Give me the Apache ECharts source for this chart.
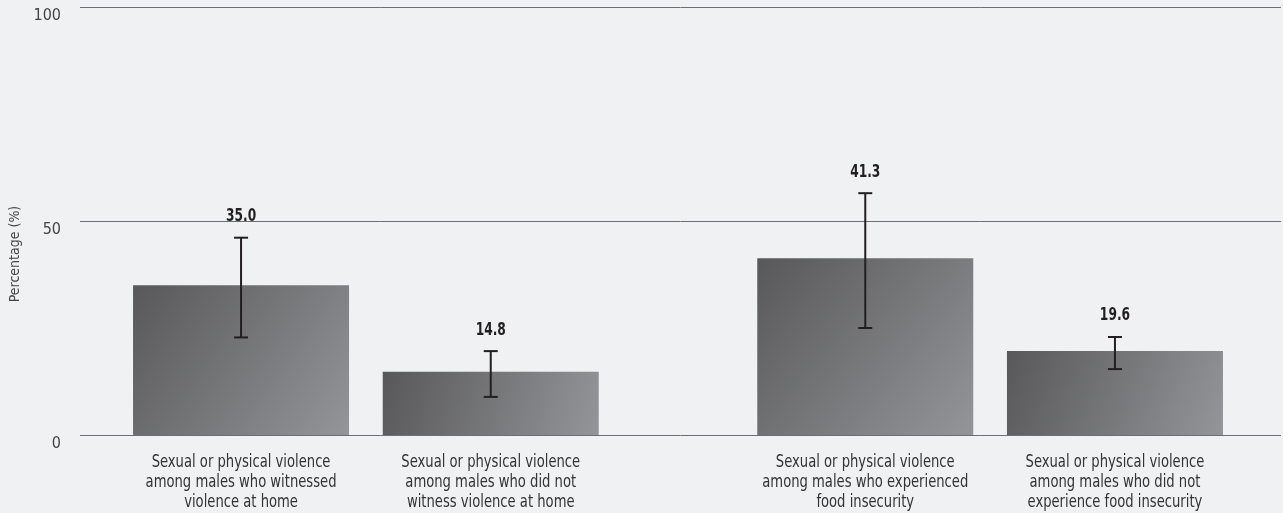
<!DOCTYPE html>
<html>
<head>
<meta charset="utf-8">
<style>
  html, body { margin: 0; padding: 0; background: #f0f1f3; }
  #chart { width: 1283px; height: 513px; }
</style>
<script src="https://cdn.jsdelivr.net/npm/echarts@6/dist/echarts.min.js"></script>
</head>
<body>
<div id="chart"></div>
<script>
// Category labels and their positions along the x axis (pairs separated by a gap)
const categories = [
  'Sexual or physical violence\namong males who witnessed\nviolence at home',
  'Sexual or physical violence\namong males who did not\nwitness violence at home',
  'Sexual or physical violence\namong males who experienced\nfood insecurity',
  'Sexual or physical violence\namong males who did not\nexperience food insecurity'
];
const positions = [0, 1, 2.5, 3.5];

// Prevalence (%) with 95% confidence limits
const values = [35.0, 14.8, 41.3, 19.6];
const lower = [22.8, 8.9, 25.0, 15.4];
const upper = [46.1, 19.6, 56.5, 22.9];

const yTicks = [0, 50, 100];

const FONT = '"Liberation Sans Narrow", "Arial Narrow", "DejaVu Sans Condensed", sans-serif';

const chart = echarts.init(document.getElementById('chart'), null, { renderer: 'canvas' });

const barData = positions.map((p, i) => [p, values[i]]);
const errData = positions.map((p, i) => [p, lower[i], upper[i], values[i], i]);

chart.setOption({
  backgroundColor: '#f0f1f3',
  animation: false,
  grid: { left: 80, right: 2, top: 7, bottom: 78, containLabel: false },
  xAxis: {
    type: 'value',
    min: -0.645,
    max: 4.165,
    splitLine: { show: false },
    axisLine: { show: false },
    axisTick: { show: false },
    axisLabel: { show: false }
  },
  yAxis: {
    type: 'value',
    min: 0,
    max: 100,
    interval: 50,
    name: 'Percentage (%)',
    nameLocation: 'middle',
    nameRotate: 90,
    nameGap: 58,
    nameTextStyle: { fontFamily: FONT, fontSize: 14, color: '#444444', padding: [0, 66, 0, 0] },
    axisLine: { show: false },
    axisTick: { show: false },
    axisLabel: {
      fontFamily: FONT,
      fontSize: 16,
      color: '#444444',
      margin: 19,
      verticalAlign: 'top',
      lineHeight: 18,
      formatter: (v) => (yTicks.includes(v) ? String(v) : '')
    },
    splitLine: { show: true, lineStyle: { color: '#6d6e71', width: 1 } }
  },
  series: [
    {
      type: 'bar',
      data: barData,
      barWidth: 216,
      itemStyle: {
        color: new echarts.graphic.LinearGradient(0, 0, 1, 1, [
          { offset: 0, color: '#58585a' },
          { offset: 1, color: '#949598' }
        ])
      },
      z: 2
    },
    {
      // error bars, value labels and category labels (narrowed text)
      type: 'custom',
      data: errData,
      z: 5,
      clip: false,
      renderItem: (params, api) => {
        const x = api.value(0);
        const lo = api.coord([x, api.value(1)]);
        const hi = api.coord([x, api.value(2)]);
        const base = api.coord([x, 0]);
        const cap = 7;
        const style = { stroke: '#231f20', lineWidth: 2 };
        return {
          type: 'group',
          children: [
            { type: 'line', shape: { x1: hi[0], y1: hi[1], x2: lo[0], y2: lo[1] }, style },
            { type: 'line', shape: { x1: hi[0] - cap, y1: hi[1], x2: hi[0] + cap, y2: hi[1] }, style },
            { type: 'line', shape: { x1: lo[0] - cap, y1: lo[1], x2: lo[0] + cap, y2: lo[1] }, style },
            {
              type: 'text',
              x: hi[0],
              y: hi[1] - 21,
              scaleX: 0.8,
              style: {
                x: 0,
                y: 0,
                text: api.value(3).toFixed(1),
                align: 'center',
                verticalAlign: 'middle',
                fontFamily: FONT,
                fontSize: 17,
                fontWeight: 'bold',
                fill: '#231f20'
              }
            },
            {
              type: 'text',
              x: base[0],
              y: base[1] + 18,
              scaleX: 0.86,
              style: {
                x: 0,
                y: 0,
                text: categories[api.value(4)],
                align: 'center',
                verticalAlign: 'top',
                fontFamily: FONT,
                fontSize: 17,
                lineHeight: 20,
                fill: '#333333'
              }
            }
          ]
        };
      }
    }
  ]
});
</script>
</body>
</html>
